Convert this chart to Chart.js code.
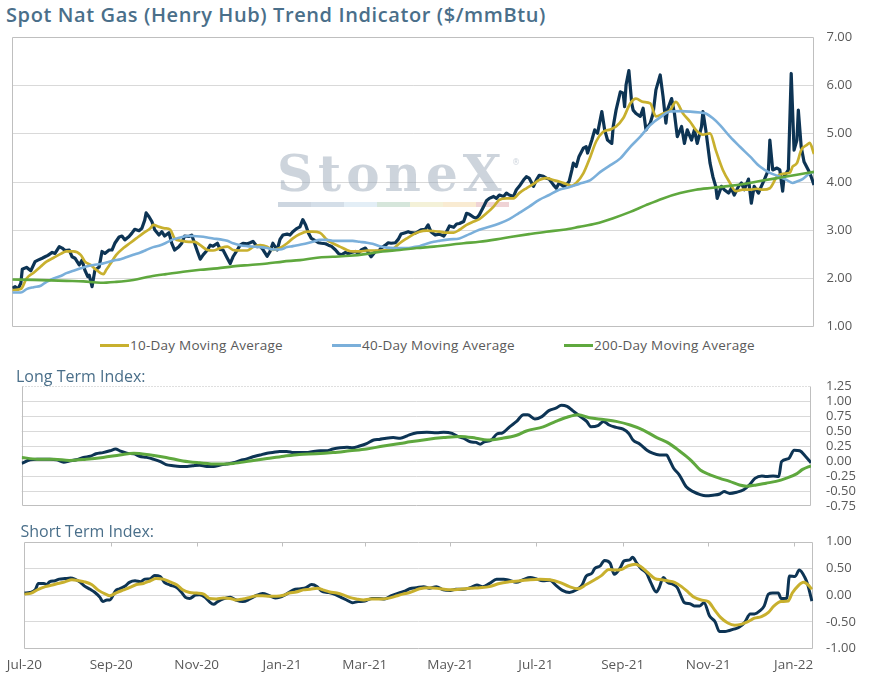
<!DOCTYPE html>
<html>
<head>
<meta charset="utf-8">
<title>Spot Nat Gas Trend Indicator</title>
<script src="https://cdn.jsdelivr.net/npm/chart.js@4.4.0/dist/chart.umd.min.js"></script>
<style>
  body { margin: 0; background: #fff; font-family: 'Open Sans', sans-serif; }
  #wrap { position: relative; width: 873px; height: 681px; overflow: hidden; }
  canvas { position: absolute; left: 0; }
  .ttl { position: absolute; white-space: nowrap; color: #4a6f8a; line-height: 1; }
  #title { left: 6px; top: 4.9px; font-size: 20px; font-weight: 600; letter-spacing: 0.6px; }
  .sub { font-size: 16px; }
  #legend { position: absolute; left: 100px; top: 338.8px; display: flex; font-size: 13.5px; line-height: 1; color: #595959; letter-spacing: 0.25px; }
  #legend .item { width: 232px; display: flex; align-items: center; white-space: nowrap; }
  #legend .swatch { width: 29px; height: 3px; margin-right: 1px; }
</style>
</head>
<body>
<div id="wrap">
  <div id="title" class="ttl">Spot Nat Gas (Henry Hub) Trend Indicator ($/mmBtu)</div>
  <canvas id="priceChart" width="873" height="307" style="top:29px"></canvas>
  <div id="legend"></div>
  <canvas id="longChart" width="873" height="136" style="top:378px"></canvas>
  <div class="ttl sub" style="left:16px;top:367.5px">Long Term Index:</div>
  <canvas id="shortChart" width="873" height="148" style="top:533px"></canvas>
  <div class="ttl sub" style="left:20.5px;top:522.5px">Short Term Index:</div>
</div>
<script>
// x values are days since 1 Jul 2020
const xMax = 563;
const tickDays = [0, 62, 123, 184, 243, 304, 365, 427, 488, 549];
const tickLabels = ['Jul-20', 'Sep-20', 'Nov-20', 'Jan-21', 'Mar-21', 'May-21', 'Jul-21', 'Sep-21', 'Nov-21', 'Jan-22'];

// spot price, $/mmBtu
const spotDays = [0, 2, 4, 6, 7, 10, 13, 16, 18, 21, 23, 25, 28, 30, 33, 35, 37, 40, 42, 44, 47, 49, 51, 53, 54, 56, 58, 61, 63, 65,
  68, 70, 72, 75, 77, 79, 82, 84, 86, 89, 91, 93, 94, 96, 98, 100, 103, 105, 107, 110, 112, 114, 117, 119, 121, 124, 126, 128, 130, 132,
  134, 137, 139, 141, 144, 146, 148, 151, 153, 155, 158, 160, 162, 165, 167, 169, 172, 174, 176, 179, 181, 183, 186, 188, 190, 193, 195, 197, 200, 202,
  204, 206, 208, 210, 213, 215, 217, 220, 222, 224, 227, 229, 231, 234, 236, 238, 241, 243, 245, 248, 250, 252, 255, 257, 259, 262, 264, 266, 269, 271,
  273, 276, 278, 280, 283, 285, 287, 290, 292, 294, 297, 300, 303, 305, 307, 310, 312, 314, 317, 319, 321, 324, 326, 328, 331, 333, 335, 338, 340, 342,
  345, 347, 349, 352, 354, 356, 359, 361, 363, 366, 368, 370, 373, 375, 377, 380, 382, 384, 387, 389, 391, 393, 394, 396, 398, 401, 403, 404, 407, 409,
  411, 414, 416, 418, 421, 422, 424, 427, 429, 430, 431, 433, 435, 436, 438, 441, 443, 445, 448, 450, 452, 455, 457, 459, 460, 463, 465, 467, 470, 472,
  474, 477, 479, 481, 484, 485, 487, 490, 492, 494, 495, 498, 500, 503, 505, 507, 510, 512, 514, 517, 519, 521, 524, 526, 528, 531, 532, 534, 537, 539,
  541, 542, 545, 547, 549, 551, 552, 554, 556, 559, 561, 563];
const spotPrice = [1.80, 1.83, 1.78, 1.90, 2.19, 2.23, 2.16, 2.35, 2.38, 2.42, 2.45, 2.48, 2.54, 2.52, 2.66, 2.63, 2.58, 2.59, 2.45, 2.42, 2.28, 2.38, 2.17, 2.04, 2.07, 1.83, 2.17, 2.24, 2.56, 2.52,
  2.59, 2.59, 2.73, 2.86, 2.88, 2.80, 2.87, 2.94, 3.02, 2.99, 3.04, 3.21, 3.36, 3.28, 3.18, 3.01, 2.90, 2.97, 2.88, 2.95, 2.73, 2.59, 2.66, 2.73, 2.88, 2.87, 2.90, 2.73, 2.56, 2.40,
  2.49, 2.59, 2.69, 2.67, 2.73, 2.60, 2.59, 2.42, 2.31, 2.45, 2.59, 2.69, 2.73, 2.72, 2.74, 2.77, 2.66, 2.67, 2.60, 2.46, 2.56, 2.73, 2.59, 2.81, 2.90, 2.92, 2.90, 2.97, 3.04, 3.07,
  3.22, 3.11, 2.94, 2.83, 2.78, 2.74, 2.73, 2.72, 2.69, 2.67, 2.59, 2.52, 2.49, 2.54, 2.51, 2.54, 2.56, 2.52, 2.59, 2.63, 2.54, 2.45, 2.56, 2.56, 2.63, 2.69, 2.74, 2.73, 2.74, 2.81,
  2.92, 2.95, 2.97, 2.95, 2.94, 2.97, 3.01, 3.02, 3.11, 2.97, 2.90, 2.92, 2.88, 2.97, 3.09, 3.06, 3.13, 3.14, 3.18, 3.35, 3.33, 3.27, 3.25, 3.32, 3.49, 3.61, 3.66, 3.70, 3.66, 3.73,
  3.70, 3.77, 3.73, 3.70, 3.84, 3.91, 4.04, 4.11, 4.08, 3.91, 4.04, 4.14, 4.12, 4.08, 4.06, 3.94, 3.87, 3.98, 3.91, 3.94, 4.01, 4.25, 4.39, 4.32, 4.53, 4.70, 4.73, 4.60, 4.87, 5.08,
  5.01, 5.46, 5.08, 4.87, 4.80, 5.15, 5.49, 5.87, 5.84, 5.56, 6.01, 6.31, 5.63, 5.49, 5.42, 5.36, 5.53, 5.08, 5.22, 5.42, 5.91, 6.22, 5.77, 5.22, 5.49, 5.73, 5.42, 4.94, 5.15, 4.80,
  5.08, 4.87, 5.08, 4.80, 5.15, 5.46, 5.08, 4.39, 4.11, 3.91, 3.66, 3.91, 3.84, 3.77, 3.87, 3.73, 3.91, 3.98, 3.84, 4.06, 3.56, 3.91, 3.77, 3.91, 4.04, 4.25, 4.87, 4.25, 4.29, 4.25,
  3.81, 4.11, 4.25, 6.25, 4.66, 4.87, 5.49, 4.73, 4.42, 4.25, 4.11, 3.94];

const ma10Days = [0, 6, 10, 15, 20, 24, 29, 34, 38, 43, 48, 51, 55, 59, 64, 66, 69, 73, 78, 83, 87, 92, 97, 99, 103, 107, 111, 114, 119, 124,
  128, 132, 137, 141, 146, 151, 155, 160, 165, 169, 174, 179, 183, 188, 193, 197, 202, 207, 211, 216, 221, 225, 230, 235, 239, 244, 249, 253, 258, 263,
  268, 272, 277, 282, 286, 291, 296, 300, 305, 310, 314, 319, 324, 328, 333, 338, 342, 347, 352, 356, 361, 366, 370, 375, 380, 384, 389, 393, 396, 401,
  406, 410, 415, 420, 424, 429, 434, 438, 443, 448, 452, 457, 462, 466, 471, 476, 480, 485, 490, 494, 499, 504, 508, 513, 518, 523, 527, 532, 537, 541,
  546, 548, 551, 554, 558, 560, 563];
const ma10 = [1.76, 1.78, 2.00, 2.12, 2.25, 2.35, 2.43, 2.51, 2.56, 2.56, 2.49, 2.35, 2.28, 2.18, 2.09, 2.18, 2.31, 2.49, 2.63, 2.74, 2.83, 2.94, 3.04, 3.11, 3.07, 3.04, 3.01, 2.83, 2.78, 2.76,
  2.76, 2.69, 2.59, 2.58, 2.63, 2.66, 2.59, 2.58, 2.58, 2.65, 2.69, 2.66, 2.59, 2.63, 2.73, 2.83, 2.92, 2.97, 2.97, 2.95, 2.80, 2.73, 2.66, 2.59, 2.56, 2.56, 2.58, 2.58, 2.58, 2.59,
  2.63, 2.73, 2.83, 2.92, 2.97, 2.99, 2.98, 2.97, 2.95, 2.95, 3.01, 3.11, 3.18, 3.23, 3.35, 3.49, 3.63, 3.66, 3.66, 3.77, 3.87, 3.96, 4.04, 4.08, 4.04, 4.01, 3.96, 3.92, 3.98, 4.18,
  4.53, 4.84, 5.04, 5.09, 5.15, 5.32, 5.63, 5.73, 5.66, 5.63, 5.36, 5.42, 5.49, 5.66, 5.42, 5.25, 5.08, 4.98, 5.01, 4.66, 4.25, 3.98, 3.81, 3.84, 3.84, 3.86, 3.84, 3.87, 4.11, 4.17,
  4.19, 4.32, 4.39, 4.66, 4.77, 4.81, 4.58];

const ma40Days = [0, 6, 10, 15, 20, 24, 29, 34, 38, 43, 48, 52, 57, 62, 66, 71, 76, 80, 85, 90, 94, 99, 104, 108, 113, 118, 123, 127, 132, 137,
  141, 146, 151, 155, 160, 165, 169, 174, 179, 183, 188, 193, 197, 202, 207, 211, 216, 221, 225, 230, 235, 239, 244, 249, 253, 258, 263, 268, 272, 277,
  282, 286, 291, 296, 300, 307, 314, 321, 328, 335, 342, 349, 356, 363, 370, 377, 384, 391, 398, 406, 413, 420, 427, 434, 441, 448, 455, 462, 469, 476,
  483, 487, 492, 497, 504, 511, 518, 525, 532, 539, 544, 548, 551, 555, 560, 563];
const ma40 = [1.71, 1.71, 1.78, 1.82, 1.85, 1.93, 2.00, 2.05, 2.11, 2.16, 2.21, 2.25, 2.28, 2.30, 2.33, 2.37, 2.40, 2.44, 2.49, 2.54, 2.59, 2.65, 2.69, 2.74, 2.81, 2.85, 2.88, 2.88, 2.87, 2.85,
  2.83, 2.81, 2.78, 2.73, 2.69, 2.67, 2.66, 2.65, 2.63, 2.60, 2.60, 2.65, 2.67, 2.70, 2.73, 2.76, 2.80, 2.80, 2.78, 2.78, 2.78, 2.78, 2.76, 2.74, 2.72, 2.67, 2.64, 2.63, 2.63, 2.63,
  2.65, 2.67, 2.72, 2.76, 2.78, 2.81, 2.83, 2.92, 3.01, 3.07, 3.14, 3.23, 3.36, 3.49, 3.63, 3.73, 3.84, 3.89, 3.96, 4.04, 4.21, 4.35, 4.49, 4.73, 4.94, 5.18, 5.34, 5.46, 5.47, 5.46,
  5.44, 5.42, 5.32, 5.18, 4.94, 4.73, 4.53, 4.32, 4.19, 4.11, 4.04, 3.98, 4.01, 4.06, 4.18, 4.21];

const ma200Days = [0, 15, 27, 38, 50, 62, 73, 85, 97, 108, 120, 132, 144, 155, 167, 179, 190, 202, 214, 225, 237, 249, 260, 272, 284, 296, 305, 317, 328, 340,
  352, 363, 375, 387, 398, 410, 422, 434, 445, 457, 469, 480, 492, 504, 516, 527, 539, 551, 563];
const ma200 = [1.98, 1.97, 1.96, 1.95, 1.94, 1.91, 1.93, 1.97, 2.04, 2.09, 2.14, 2.18, 2.21, 2.25, 2.28, 2.31, 2.35, 2.38, 2.43, 2.45, 2.47, 2.51, 2.56, 2.59, 2.63, 2.66, 2.69, 2.73, 2.76, 2.81,
  2.87, 2.92, 2.97, 3.01, 3.07, 3.14, 3.25, 3.38, 3.52, 3.66, 3.77, 3.84, 3.88, 3.92, 3.97, 4.03, 4.09, 4.15, 4.21];

// long term index and its signal line
const longDays = [0, 6, 11, 15, 20, 25, 30, 34, 39, 44, 49, 53, 58, 63, 67, 70, 75, 80, 84, 89, 94, 99, 103, 108, 113, 118, 122, 127, 132, 137,
  141, 146, 151, 156, 160, 165, 170, 175, 179, 184, 189, 194, 198, 203, 208, 213, 217, 222, 227, 232, 236, 241, 246, 251, 255, 260, 265, 270, 275, 277,
  282, 289, 296, 301, 307, 311, 315, 320, 324, 327, 330, 335, 339, 343, 348, 353, 358, 361, 366, 371, 376, 381, 385, 389, 393, 398, 403, 406, 411, 415,
  419, 424, 429, 433, 436, 441, 446, 450, 455, 460, 462, 465, 469, 474, 479, 484, 488, 493, 498, 501, 505, 510, 515, 519, 523, 528, 531, 536, 540, 542,
  547, 551, 555, 559, 563];
const longTerm = [-0.04, 0.02, 0.03, 0.03, 0.03, 0.02, -0.02, 0.00, 0.02, 0.06, 0.08, 0.12, 0.14, 0.17, 0.20, 0.17, 0.13, 0.12, 0.08, 0.06, 0.03, -0.01, -0.06, -0.08, -0.09, -0.09, -0.08, -0.07, -0.09, -0.09,
  -0.07, -0.05, -0.03, 0.01, 0.03, 0.07, 0.10, 0.13, 0.14, 0.16, 0.16, 0.14, 0.14, 0.14, 0.16, 0.17, 0.17, 0.20, 0.22, 0.23, 0.22, 0.25, 0.29, 0.35, 0.36, 0.38, 0.39, 0.38, 0.42, 0.44,
  0.47, 0.48, 0.47, 0.48, 0.46, 0.41, 0.38, 0.32, 0.31, 0.28, 0.32, 0.35, 0.45, 0.47, 0.57, 0.66, 0.77, 0.77, 0.70, 0.74, 0.84, 0.88, 0.93, 0.91, 0.84, 0.75, 0.66, 0.57, 0.59, 0.66,
  0.60, 0.56, 0.53, 0.46, 0.35, 0.28, 0.18, 0.13, 0.10, 0.10, 0.02, -0.12, -0.23, -0.43, -0.51, -0.56, -0.58, -0.57, -0.55, -0.51, -0.54, -0.52, -0.48, -0.40, -0.29, -0.25, -0.26, -0.25, -0.26, -0.01,
  0.04, 0.18, 0.17, 0.08, -0.03];
const longSigDays = [0, 11, 23, 34, 46, 58, 70, 80, 92, 103, 115, 127, 139, 151, 163, 175, 187, 198, 210, 222, 234, 246, 258, 270, 277, 289, 301, 313, 324, 332,
  343, 353, 360, 372, 381, 389, 397, 405, 415, 424, 434, 443, 453, 462, 469, 477, 484, 491, 498, 505, 512, 517, 524, 531, 538, 545, 553, 557, 563];
const longSignal = [0.06, 0.03, 0.03, 0.01, 0.03, 0.06, 0.10, 0.13, 0.10, 0.06, 0.00, -0.03, -0.05, -0.04, 0.00, 0.04, 0.08, 0.11, 0.12, 0.14, 0.17, 0.20, 0.25, 0.29, 0.32, 0.36, 0.39, 0.41, 0.38, 0.35,
  0.38, 0.43, 0.50, 0.57, 0.66, 0.73, 0.77, 0.72, 0.69, 0.66, 0.60, 0.52, 0.39, 0.29, 0.17, 0.02, -0.15, -0.23, -0.29, -0.34, -0.40, -0.42, -0.40, -0.37, -0.34, -0.29, -0.21, -0.14, -0.08];

// short term index and its signal line
const shortDays = [0, 4, 8, 10, 14, 16, 18, 22, 25, 29, 33, 36, 40, 43, 47, 50, 54, 56, 59, 61, 65, 68, 72, 75, 79, 83, 86, 90, 93, 97,
  100, 104, 109, 112, 115, 118, 122, 125, 129, 132, 135, 138, 142, 147, 151, 156, 161, 166, 170, 175, 179, 182, 187, 192, 197, 201, 205, 209, 212, 217,
  222, 226, 230, 234, 238, 243, 248, 253, 257, 262, 267, 272, 275, 280, 285, 289, 294, 299, 304, 308, 313, 318, 323, 327, 332, 337, 342, 346, 351, 356,
  361, 365, 370, 375, 380, 384, 389, 394, 398, 401, 405, 407, 411, 414, 418, 421, 425, 428, 432, 434, 437, 440, 444, 447, 451, 453, 456, 459, 463, 466,
  469, 471, 475, 478, 482, 485, 489, 493, 496, 500, 503, 507, 510, 514, 518, 521, 525, 528, 531, 534, 538, 540, 544, 546, 550, 553, 557, 559, 562];
const shortTerm = [0.04, 0.05, 0.11, 0.22, 0.22, 0.20, 0.25, 0.27, 0.30, 0.31, 0.32, 0.30, 0.24, 0.17, 0.11, 0.06, -0.04, -0.12, -0.09, -0.09, 0.08, 0.12, 0.17, 0.24, 0.27, 0.25, 0.30, 0.31, 0.37, 0.35,
  0.24, 0.19, 0.14, 0.06, -0.04, -0.06, 0.00, 0.01, -0.04, -0.12, -0.17, -0.12, -0.07, -0.04, -0.09, -0.12, -0.07, 0.00, 0.03, -0.01, -0.05, -0.04, 0.02, 0.10, 0.12, 0.14, 0.20, 0.16, 0.08, 0.05,
  0.01, -0.04, -0.09, -0.14, -0.12, -0.11, -0.06, -0.06, -0.07, -0.01, 0.04, 0.08, 0.12, 0.14, 0.16, 0.13, 0.16, 0.10, 0.09, 0.11, 0.11, 0.14, 0.19, 0.16, 0.22, 0.30, 0.30, 0.28, 0.24, 0.29,
  0.33, 0.31, 0.27, 0.28, 0.17, 0.09, 0.05, 0.10, 0.19, 0.36, 0.41, 0.50, 0.55, 0.65, 0.60, 0.39, 0.50, 0.64, 0.66, 0.71, 0.60, 0.50, 0.41, 0.24, 0.06, 0.14, 0.33, 0.24, 0.20, 0.14,
  -0.04, -0.14, -0.16, -0.20, -0.20, -0.14, -0.39, -0.50, -0.68, -0.68, -0.66, -0.63, -0.60, -0.51, -0.35, -0.35, -0.29, -0.20, 0.02, 0.04, 0.04, -0.06, -0.06, 0.36, 0.35, 0.47, 0.33, 0.20, -0.11];
const shortSigDays = [0, 5, 10, 15, 20, 24, 29, 34, 39, 43, 48, 53, 58, 61, 66, 71, 75, 80, 85, 90, 94, 99, 104, 109, 113, 118, 123, 128, 132, 137,
  142, 147, 151, 156, 161, 166, 170, 175, 180, 185, 189, 194, 199, 204, 209, 213, 218, 223, 228, 232, 237, 242, 247, 251, 256, 261, 266, 270, 275, 282,
  289, 297, 304, 311, 318, 325, 332, 339, 346, 354, 361, 368, 375, 382, 389, 395, 401, 407, 412, 417, 421, 426, 431, 436, 440, 445, 450, 455, 459, 464,
  469, 474, 478, 483, 488, 493, 497, 502, 507, 512, 516, 521, 526, 531, 535, 540, 545, 548, 552, 556, 559, 562];
const shortSignal = [0.02, 0.04, 0.11, 0.16, 0.19, 0.22, 0.25, 0.29, 0.27, 0.25, 0.20, 0.09, 0.02, -0.01, 0.05, 0.10, 0.14, 0.20, 0.22, 0.27, 0.31, 0.30, 0.25, 0.19, 0.10, 0.05, 0.04, 0.02, -0.06, -0.07,
  -0.05, -0.06, -0.09, -0.07, -0.04, -0.01, -0.01, -0.02, -0.02, 0.00, 0.04, 0.06, 0.10, 0.11, 0.13, 0.10, 0.06, 0.04, 0.00, -0.04, -0.07, -0.09, -0.07, -0.07, -0.07, -0.05, -0.01, 0.02, 0.05, 0.12,
  0.14, 0.12, 0.10, 0.11, 0.13, 0.14, 0.16, 0.22, 0.25, 0.27, 0.29, 0.30, 0.29, 0.24, 0.16, 0.12, 0.20, 0.29, 0.37, 0.48, 0.47, 0.48, 0.55, 0.58, 0.53, 0.42, 0.31, 0.29, 0.27, 0.24,
  0.16, 0.05, -0.04, -0.09, -0.12, -0.29, -0.42, -0.52, -0.56, -0.54, -0.50, -0.43, -0.40, -0.32, -0.20, -0.12, -0.11, 0.04, 0.17, 0.24, 0.20, 0.11];

const NAVY = '#0d3454';
const GOLD = '#c8b02e';
const SKY = '#7aafda';
const GREEN = '#5fa83e';
const GRID = '#d9d9d9';
const FRAME = '#bfbfbf';
const TEXT = '#595959';
const CLEAR = 'rgba(0,0,0,0)';

function pts(days, vals) {
  return days.map((d, i) => ({ x: d, y: vals[i] }));
}

// draws the box round the plot area (Chart.js only draws the axis side)
const framePlugin = {
  id: 'frame',
  beforeDatasetsDraw(chart, args, opts) {
    const a = chart.chartArea;
    const ctx = chart.ctx;
    const l = Math.round(a.left) + 0.5, r = Math.round(a.right) - 0.5;
    const t = Math.round(a.top) + 0.5, b = Math.round(a.bottom) - 0.5;
    ctx.save();
    ctx.strokeStyle = FRAME;
    ctx.lineWidth = 1;
    ctx.beginPath();
    ctx.moveTo(l, t); ctx.lineTo(l, b); ctx.lineTo(r, b); ctx.lineTo(r, t);
    ctx.stroke();
    if (opts.topDash) ctx.setLineDash(opts.topDash);
    ctx.beginPath();
    ctx.moveTo(l, t); ctx.lineTo(r, t);
    ctx.stroke();
    ctx.setLineDash([]);
    if (opts.topTicks) {
      const xs = chart.scales.x;
      ctx.beginPath();
      tickDays.forEach(d => {
        const px = Math.round(xs.getPixelForValue(d)) + 0.5;
        if (px > l + 2 && px < r - 2) { ctx.moveTo(px, t); ctx.lineTo(px, t + 4); }
      });
      ctx.stroke();
    }
    ctx.restore();
  }
};

// faint StoneX mark behind the price lines
const watermarkPlugin = {
  id: 'watermark',
  beforeDatasetsDraw(chart) {
    const ctx = chart.ctx;
    ctx.save();
    ctx.fillStyle = 'rgba(150, 166, 182, 0.48)';
    ctx.font = 'bold 50px "DejaVu Serif", serif';
    ctx.letterSpacing = '5px';
    ctx.textBaseline = 'alphabetic';
    ctx.fillText('StoneX', 277, 162);
    ctx.letterSpacing = '0px';
    ctx.font = '8px "DejaVu Sans", sans-serif';
    ctx.fillText('\u00ae', 512, 136);
    const bars = ['#cdd6e0', '#d4dee8', '#e3eef6', '#d6e6db', '#f4f1d8', '#f9ebd2', '#efd3d5'];
    bars.forEach((c, i) => {
      ctx.fillStyle = c;
      ctx.fillRect(278 + i * 33, 173, 33, 5);
    });
    ctx.restore();
  }
};

// label gap is made with an invisible tick mark: ticks.padding would also push the plot area down
function yAxis(min, max, step, width, gap) {
  const edge = v => Math.abs(v - min) < 1e-6 || Math.abs(v - max) < 1e-6;
  return {
    position: 'right',
    min: min,
    max: max,
    afterFit: s => { s.width = width; },
    border: { display: false },
    grid: {
      drawTicks: true,
      tickLength: gap,
      tickColor: CLEAR,
      color: c => (c.tick && edge(c.tick.value)) ? CLEAR : GRID
    },
    ticks: {
      stepSize: step,
      autoSkip: false,
      padding: 0,
      color: TEXT,
      font: { family: 'Open Sans', size: 13 },
      callback: v => v.toFixed(2)
    }
  };
}

function lineSet(label, data, color, width, order, smooth) {
  return {
    label: label,
    data: data,
    borderColor: color,
    backgroundColor: color,
    borderWidth: width,
    pointRadius: 0,
    borderJoinStyle: 'round',
    tension: 0,
    cubicInterpolationMode: smooth ? 'monotone' : 'default',
    order: order
  };
}

function baseOptions(padding, frame, scales) {
  return {
    responsive: false,
    animation: false,
    events: [],
    parsing: false,
    layout: { padding: padding },
    plugins: {
      legend: { display: false },
      tooltip: { enabled: false },
      frame: frame
    },
    scales: scales
  };
}

const hiddenX = { type: 'linear', min: 0, max: xMax, display: false };

const priceChart = new Chart(document.getElementById('priceChart'), {
  type: 'line',
  data: {
    datasets: [
      lineSet('10-Day Moving Average', pts(ma10Days, ma10), GOLD, 2.7, 3, true),
      lineSet('40-Day Moving Average', pts(ma40Days, ma40), SKY, 2.6, 2, true),
      lineSet('200-Day Moving Average', pts(ma200Days, ma200), GREEN, 2.6, 1, true),
      lineSet('Spot Price', pts(spotDays, spotPrice), NAVY, 3.2, 4, false)
    ]
  },
  options: baseOptions({ left: 12.3, top: 8.3, right: 0, bottom: 9.3 }, {},
    { x: hiddenX, y: yAxis(1, 7, 1, 59, 12.5) }),
  plugins: [framePlugin, watermarkPlugin]
});

// legend for the moving averages only
const legendBox = document.getElementById('legend');
priceChart.data.datasets.filter(ds => ds.label !== 'Spot Price').forEach(ds => {
  const item = document.createElement('div');
  item.className = 'item';
  const sw = document.createElement('span');
  sw.className = 'swatch';
  sw.style.background = ds.borderColor;
  item.appendChild(sw);
  item.appendChild(document.createTextNode(ds.label));
  legendBox.appendChild(item);
});

new Chart(document.getElementById('longChart'), {
  type: 'line',
  data: {
    datasets: [
      lineSet('Signal', pts(longSigDays, longSignal), GREEN, 3, 1, true),
      lineSet('Long Term Index', pts(longDays, longTerm), NAVY, 3, 2, true)
    ]
  },
  options: baseOptions({ left: 21.7, top: 8, right: 0, bottom: 8 }, { topDash: [1, 2] },
    { x: hiddenX, y: yAxis(-0.75, 1.25, 0.25, 62, 15) }),
  plugins: [framePlugin]
});

new Chart(document.getElementById('shortChart'), {
  type: 'line',
  data: {
    datasets: [
      lineSet('Signal', pts(shortSigDays, shortSignal), GOLD, 3, 1, true),
      lineSet('Short Term Index', pts(shortDays, shortTerm), NAVY, 3, 2, true)
    ]
  },
  options: baseOptions({ left: 24.3, top: 8.7, right: 0, bottom: 0 }, { topTicks: true },
    {
      x: {
        type: 'linear',
        min: 0,
        max: xMax,
        afterBuildTicks: s => { s.ticks = tickDays.map(v => ({ value: v })); },
        afterFit: s => { s.height = 32.3; },
        border: { display: false },
        grid: { display: false, drawTicks: true, tickLength: 8 },
        ticks: {
          autoSkip: false,
          maxRotation: 0,
          padding: 0,
          color: TEXT,
          font: { family: 'Open Sans', size: 13.5 },
          callback: (v, i) => tickLabels[i]
        }
      },
      y: yAxis(-1, 1, 0.5, 59.7, 12.7)
    }),
  plugins: [framePlugin]
});
</script>
</body>
</html>
